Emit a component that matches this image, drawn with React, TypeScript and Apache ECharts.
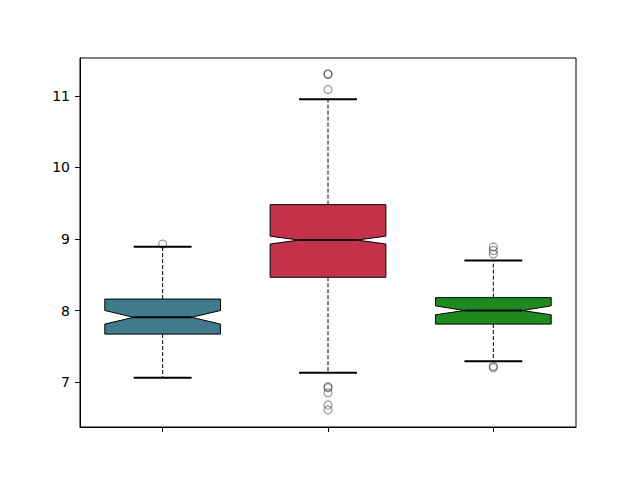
import React, { useEffect, useRef } from "react";
import * as echarts from "echarts";

const categories = ["Group 1", "Group 2", "Group 3"];
const whiskerLow = [7.06, 7.13, 7.29];
const q1 = [7.67, 8.465, 7.81];
const notchLow = [7.81, 8.93, 7.94];
const median = [7.905, 8.985, 8.0];
const notchHigh = [8.0, 9.04, 8.065];
const q3 = [8.16, 9.48, 8.18];
const whiskerHigh = [8.89, 10.955, 8.70];
const boxColors = ["#3f7b8c", "#c4324a", "#1f8b1f"];
const outliers: [number, number][] = [
  [0, 8.93],
  [1, 11.30], [1, 11.31], [1, 11.09],
  [1, 6.935], [1, 6.92], [1, 6.85], [1, 6.68], [1, 6.61],
  [2, 8.89], [2, 8.84], [2, 8.79],
  [2, 7.22], [2, 7.20],
];
const yTicks = [7, 8, 9, 10, 11];

export default function App() {
  const ref = useRef<HTMLDivElement>(null);
  useEffect(() => {
    if (!ref.current) return;
    const chart = echarts.init(ref.current, undefined, { renderer: "svg" });
    const boxData = categories.map((_, i) => [
      i, whiskerLow[i], q1[i], notchLow[i], median[i], notchHigh[i], q3[i], whiskerHigh[i],
    ]);
    const renderItem = (params: any, api: any) => {
      const idx = api.value(0);
      const band = api.size([1, 0])[0];
      const w = band * 0.7;
      const cx = api.coord([idx, median[idx]])[0];
      const y = (v: number) => api.coord([idx, v])[1];
      const L = cx - w / 2, R = cx + w / 2;
      const Ln = cx - w / 4, Rn = cx + w / 4;
      const yWl = y(api.value(1)), yQ1 = y(api.value(2)), yNl = y(api.value(3));
      const yMed = y(api.value(4)), yNh = y(api.value(5)), yQ3 = y(api.value(6)), yWh = y(api.value(7));
      return {
        type: "group",
        children: [
          { type: "line", shape: { x1: cx, y1: yQ3, x2: cx, y2: yWh }, style: { stroke: "#000", lineWidth: 1, lineDash: [4, 2] } },
          { type: "line", shape: { x1: cx, y1: yQ1, x2: cx, y2: yWl }, style: { stroke: "#000", lineWidth: 1, lineDash: [4, 2] } },
          { type: "line", shape: { x1: Ln, y1: yWh, x2: Rn, y2: yWh }, style: { stroke: "#000", lineWidth: 2 } },
          { type: "line", shape: { x1: Ln, y1: yWl, x2: Rn, y2: yWl }, style: { stroke: "#000", lineWidth: 2 } },
          {
            type: "polygon",
            shape: {
              points: [
                [L, yQ3], [R, yQ3], [R, yNh], [Rn, yMed], [R, yNl], [R, yQ1],
                [L, yQ1], [L, yNl], [Ln, yMed], [L, yNh],
              ],
            },
            style: { fill: boxColors[idx], stroke: "#000", lineWidth: 1 },
          },
          { type: "line", shape: { x1: Ln, y1: yMed, x2: Rn, y2: yMed }, style: { stroke: "#000", lineWidth: 2 } },
        ],
      };
    };
    chart.setOption({
      animation: false,
      grid: { left: 80, right: 64, top: 58, bottom: 53, show: true, borderColor: "#000", borderWidth: 1, backgroundColor: "transparent" },
      xAxis: {
        type: "category",
        data: categories,
        boundaryGap: true,
        axisLine: { show: true, lineStyle: { color: "#000", width: 1 } },
        axisTick: { show: true, alignWithLabel: true, length: 5, inside: false, lineStyle: { color: "#000" } },
        axisLabel: { show: false },
        splitLine: { show: false },
      },
      yAxis: {
        type: "value",
        min: 6.371,
        max: 11.531,
        axisLine: { show: true, lineStyle: { color: "#000", width: 1 } },
        axisTick: { show: true, length: 5, lineStyle: { color: "#000" }, customValues: yTicks },
        axisLabel: {
          color: "#000",
          fontSize: 14,
          fontFamily: "DejaVu Sans",
          margin: 10,
          formatter: (v: number) => String(v),
          customValues: yTicks,
        },
        splitLine: { show: false },
      },
      series: [
        { type: "custom", renderItem, data: boxData, encode: { x: 0, y: [1, 7] }, z: 2 },
        {
          type: "scatter",
          data: outliers,
          symbol: "circle",
          symbolSize: 8,
          itemStyle: { color: "rgba(0,0,0,0)", borderColor: "rgba(0,0,0,0.55)", borderWidth: 1.1 },
          z: 3,
        },
      ],
    });
    return () => chart.dispose();
  }, []);
  return <div ref={ref} style={{ width: 640, height: 480, margin: -8 }} />;
}
